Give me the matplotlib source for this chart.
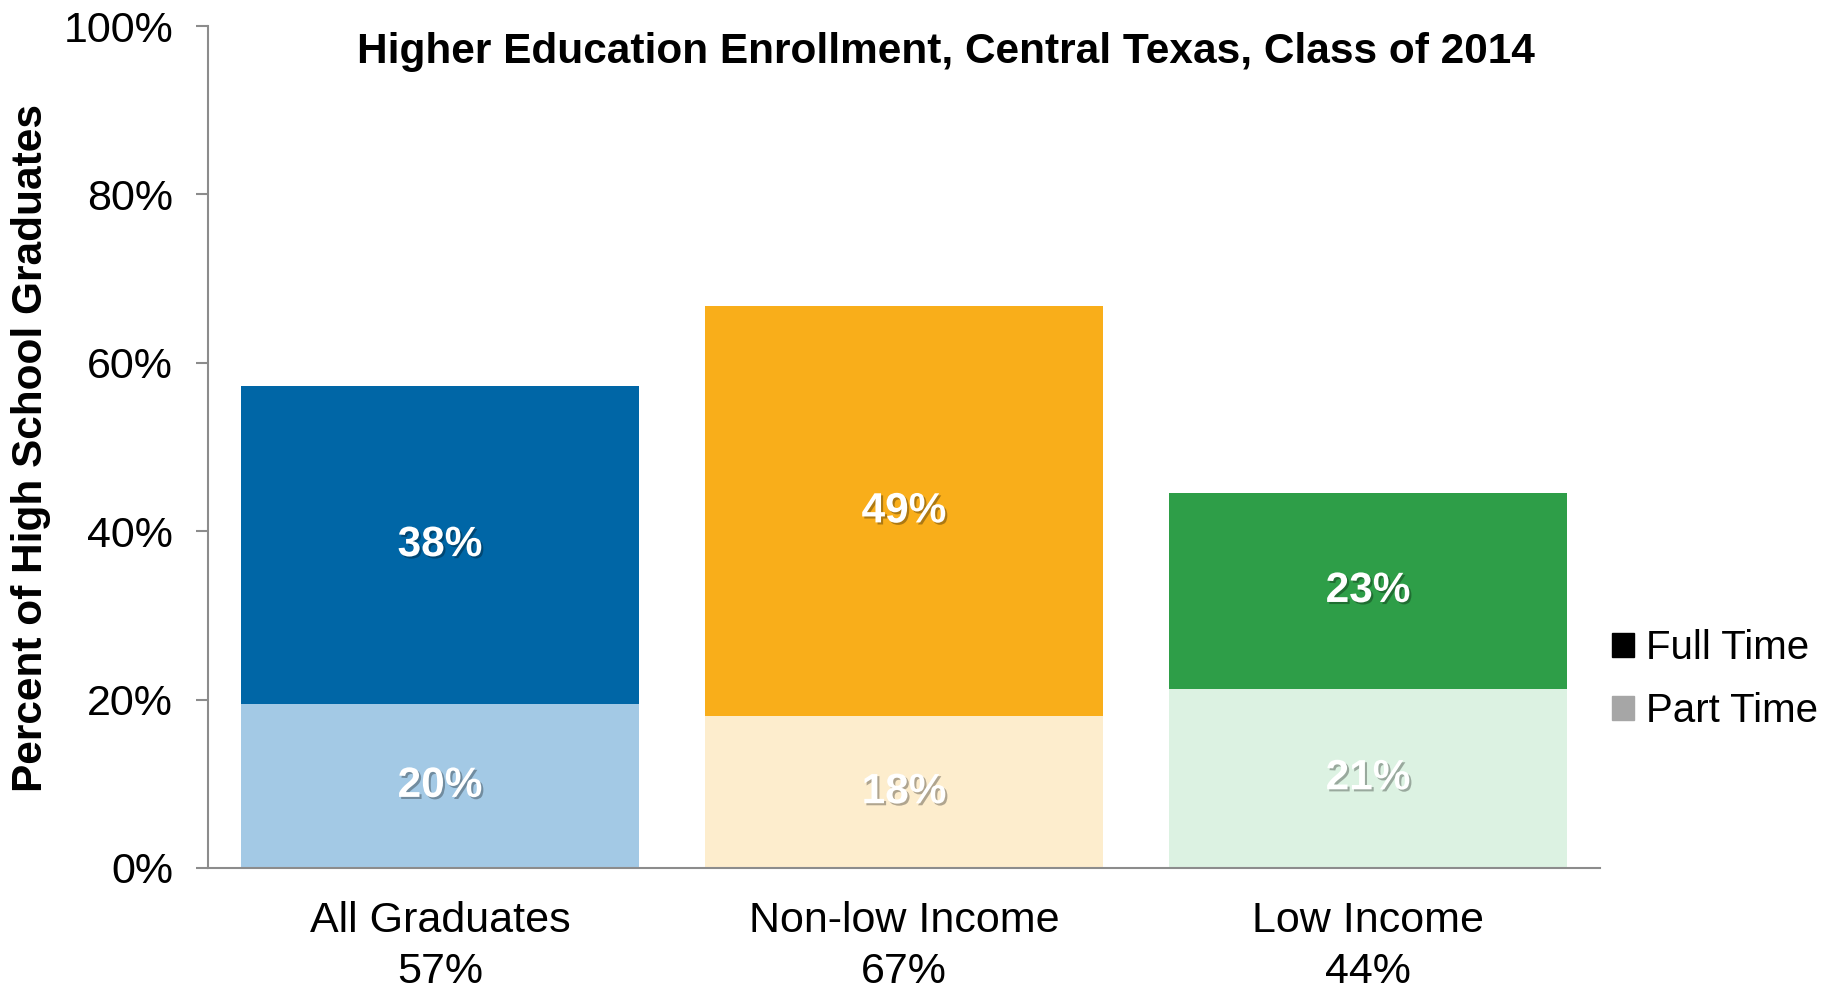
import matplotlib.pyplot as plt
import matplotlib.patheffects as pe
from matplotlib.patches import Patch

# data
groups = ["All Graduates", "Non-low Income", "Low Income"]
totals = ["57%", "67%", "44%"]
part_time = [19.5, 18.0, 21.3]
full_time = [37.7, 48.7, 23.2]
part_labels = ["20%", "18%", "21%"]
full_labels = ["38%", "49%", "23%"]

full_colors = ["#0066A6", "#F9AE1A", "#2E9E48"]
part_colors = ["#A3C9E5", "#FDEDCD", "#DCF2E2"]

plt.rcParams['font.family'] = ['Liberation Sans', 'DejaVu Sans']

fig = plt.figure(figsize=(18.47, 9.85), dpi=100)
ax = fig.add_axes([0.1126, 0.1188, 0.7537, 0.8548])

x = list(range(len(groups)))
ax.bar(x, part_time, width=0.856, color=part_colors)
ax.bar(x, full_time, width=0.856, bottom=part_time, color=full_colors)

shadow = [pe.SimplePatchShadow(offset=(1.5, -1.5), shadow_rgbFace='black', alpha=0.3), pe.Normal()]
for i in x:
    ax.text(i, part_time[i] / 2, part_labels[i], ha='center', va='center',
            fontsize=30.5, fontweight='bold', color='white', path_effects=shadow)
    ax.text(i, part_time[i] + full_time[i] / 2, full_labels[i], ha='center', va='center',
            fontsize=30.5, fontweight='bold', color='white', path_effects=shadow)

ax.set_xlim(-0.5, 2.5)
ax.set_ylim(0, 100)
ax.set_yticks([0, 20, 40, 60, 80, 100])
ax.set_yticklabels(["0%", "20%", "40%", "60%", "80%", "100%"], fontsize=31)
ax.set_xticks(x)
ax.set_xticklabels([g + "\n" + t for g, t in zip(groups, totals)], fontsize=31, linespacing=1.35)
ax.tick_params(axis='x', length=0, pad=24)
ax.tick_params(axis='y', length=9, width=1.5, color='#8C8C8C', pad=16, direction='out')

for s in ['top', 'right']:
    ax.spines[s].set_visible(False)
ax.spines['left'].set_color('#8C8C8C')
ax.spines['bottom'].set_color('#8C8C8C')
ax.spines['left'].set_linewidth(1.5)
ax.spines['bottom'].set_linewidth(1.5)

fig.text(0.017, 0.545, "Percent of High School Graduates", rotation=90, ha='center', va='center',
         fontsize=30.5, fontweight='bold')
fig.text(0.512, 0.947, "Higher Education Enrollment, Central Texas, Class of 2014", ha='center', va='center',
         fontsize=30.5, fontweight='bold')

handles = [Patch(color='black'), Patch(color='#A6A6A6')]
fig.legend(handles, ["Full Time", "Part Time"], loc='center left', bbox_to_anchor=(0.853, 0.31),
           frameon=False, fontsize=29, handlelength=0.55, handleheight=0.55, handletextpad=0.3,
           labelspacing=0.62)

fig.savefig("out.png", dpi=100)
